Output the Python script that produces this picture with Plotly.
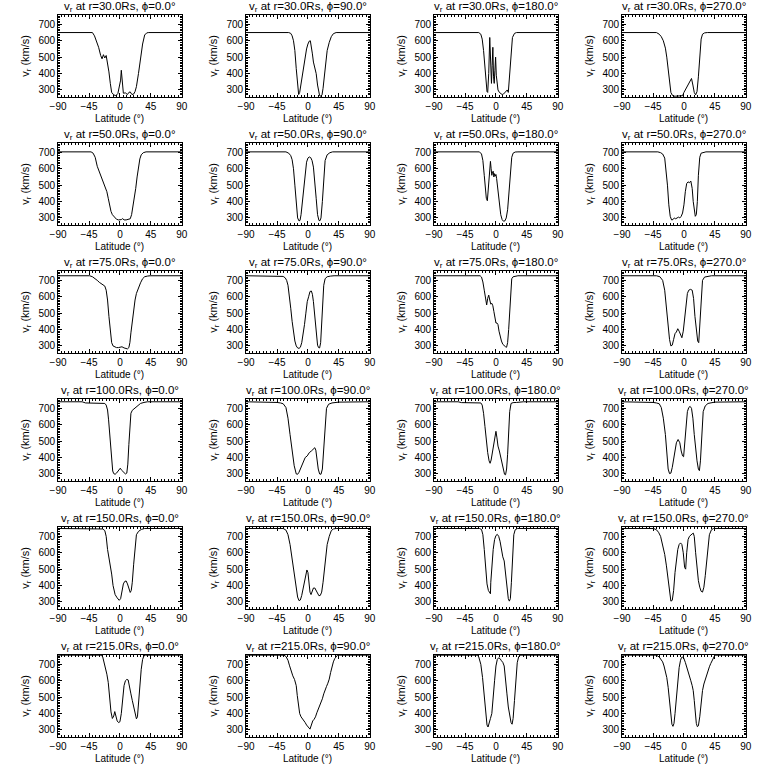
import plotly.graph_objects as go

radii = [30.0, 50.0, 75.0, 100.0, 150.0, 215.0]
phis = [0.0, 90.0, 180.0, 270.0]
x_ticks = [-90, -45, 0, 45, 90]
y_ticks = [300, 400, 500, 600, 700]

# ---------------- r = 30 Rs ----------------
lat_30_0 = [-90, -40, -37, -34, -31, -28, -26, -24, -22, -20, -18, -16, -14, -12, -9, -6, -3, -1, 1, 2, 3.5, 5, 8, 11, 13, 15, 17.5, 20, 22, 24, 27, 30, 33, 36, 39, 42, 90]
v_30_0 = [650, 650, 630, 600, 560, 510, 490, 515, 495, 510, 470, 410, 340, 285, 270, 265, 278, 310, 360, 420, 310, 280, 282, 272, 285, 288, 272, 275, 290, 320, 400, 490, 580, 635, 648, 650, 650]

lat_30_90 = [-90, -28, -25, -23, -21, -19, -17, -15, -13.5, -12, -10, -8, -5, -2, 0, 2, 3.5, 5, 6.5, 8, 10, 12, 14, 15.5, 17, 19, 20.5, 22, 24, 26, 28, 31, 34, 37, 41, 90]
v_30_90 = [650, 650, 645, 630, 600, 540, 430, 320, 272, 285, 340, 400, 480, 550, 580, 598, 600, 570, 520, 470, 440, 400, 330, 285, 265, 262, 270, 310, 400, 490, 540, 590, 625, 643, 650, 650]

lat_30_180 = [-90, -25, -22, -20, -18, -16, -14.5, -13, -12, -10.5, -9, -7.5, -6.5, -5.5, -4.5, -3.5, -2.5, -1.5, -0.5, 0.5, 1.5, 3, 5, 7, 9, 11, 13, 15, 16.5, 18, 20, 22, 24, 27, 30, 90]
v_30_180 = [650, 650, 640, 610, 540, 420, 320, 290, 285, 400, 620, 470, 340, 450, 560, 380, 340, 420, 500, 390, 330, 300, 285, 275, 272, 275, 285, 295, 300, 285, 400, 540, 620, 645, 650, 650]

lat_30_270 = [-90, -40, -36, -33, -30, -27, -25, -23, -21, -19, -17, -15, -12, -8, -4, -2, 0, 3, 6, 9, 11, 13, 15, 17, 19, 21, 23, 25, 27, 30, 34, 90]
v_30_270 = [650, 650, 640, 625, 600, 555, 500, 420, 340, 285, 268, 262, 262, 262, 262, 265, 285, 310, 335, 360, 370, 330, 285, 270, 290, 380, 520, 610, 640, 648, 650, 650]

# ---------------- r = 50 Rs ----------------
lat_50_0 = [-90, -42, -39, -36, -33, -30, -27, -24, -21, -19, -17, -15, -13, -11, -8, -5, -2, 0, 2, 4, 6, 9, 12, 15, 17, 19, 21, 23, 25, 27, 29, 31, 34, 38, 90]
v_50_0 = [703, 703, 695, 670, 615, 580, 545, 510, 480, 460, 420, 370, 340, 320, 305, 292, 288, 288, 290, 296, 288, 288, 290, 295, 320, 370, 420, 480, 550, 610, 660, 685, 698, 703, 703]

lat_50_90 = [-90, -32, -28, -25, -23, -21, -19, -17, -15, -13, -11.5, -10, -8, -6, -4, -2, 0, 2, 4, 6, 8, 10, 12, 14, 16, 17.5, 19, 21, 23, 25, 28, 32, 36, 90]
v_50_90 = [703, 703, 695, 680, 655, 600, 500, 380, 300, 282, 285, 320, 400, 500, 590, 640, 665, 672, 668, 650, 610, 530, 420, 320, 285, 283, 300, 400, 560, 650, 685, 698, 703, 703]

lat_50_180 = [-90, -24, -21, -19, -17, -15.5, -14, -12.5, -11, -9.5, -8, -7, -6, -5, -4, -3, -2, -1, 0, 1, 2, 3.5, 5, 7, 9, 11, 13, 15, 17, 19, 21, 23, 25, 28, 32, 90]
v_50_180 = [703, 703, 690, 650, 560, 470, 420, 405, 480, 600, 645, 600, 560, 580, 585, 550, 570, 555, 565, 540, 500, 430, 370, 320, 290, 280, 282, 300, 350, 450, 580, 670, 695, 702, 703, 703]

lat_50_270 = [-90, -38, -34, -31, -28, -26, -24, -22, -20, -18, -16, -14, -12, -10, -8, -6, -4, -2, 0, 2, 4, 6, 8, 10, 12, 13.5, 15, 16.5, 18, 19.5, 21, 23, 25, 28, 32, 90]
v_50_270 = [703, 703, 698, 690, 665, 600, 500, 380, 310, 288, 290, 300, 295, 300, 305, 300, 310, 330, 380, 460, 510, 520, 515, 525, 480, 400, 330, 310, 320, 400, 560, 670, 695, 700, 703, 703]

# ---------------- r = 75 Rs ----------------
lat_75_0 = [-90, -44, -40, -36, -33, -30, -27, -24, -22, -20, -18, -16, -14, -12, -10, -8, -5, -2, 0, 3, 6, 9, 11, 13, 14.5, 16, 18, 20, 22, 24, 26, 28, 30, 33, 36, 40, 44, 90]
v_75_0 = [728, 728, 722, 712, 700, 688, 680, 675, 665, 640, 580, 480, 380, 320, 300, 295, 290, 290, 292, 295, 288, 283, 282, 290, 320, 380, 460, 530, 580, 620, 645, 665, 685, 710, 722, 726, 728, 728]

lat_75_90 = [-90, -40, -36, -33, -31, -29, -27, -25, -23, -21, -19, -17, -15, -13, -11, -9, -7, -5, -3, -1, 1, 3, 5, 6.5, 8, 9.5, 11, 12.5, 14, 15.5, 17, 18.5, 20, 21.5, 23, 25, 28, 33, 38, 90]
v_75_90 = [728, 728, 724, 715, 700, 670, 610, 530, 450, 380, 330, 300, 288, 285, 292, 320, 370, 430, 500, 570, 600, 632, 635, 615, 570, 500, 420, 350, 305, 290, 288, 320, 420, 560, 670, 710, 722, 726, 728, 728]

lat_75_180 = [-90, -23, -21, -19, -17, -15, -13.5, -12, -10.5, -9, -7.5, -6, -4.5, -3, -1.5, 0, 1.5, 3, 4.5, 6, 8, 10, 12, 14, 15.5, 17, 18.5, 20, 21.5, 23, 25, 28, 32, 90]
v_75_180 = [728, 728, 720, 690, 640, 590, 550, 590, 610, 580, 555, 560, 545, 510, 470, 440, 440, 430, 390, 360, 330, 310, 300, 295, 292, 320, 400, 520, 640, 710, 722, 726, 728, 728]

lat_75_270 = [-90, -40, -35, -31, -28, -25.5, -23, -21, -19, -17, -15, -13, -11, -9, -7, -5, -3, -1, 1, 3, 5, 7, 9.5, 12, 14, 16, 18, 20, 21.5, 23, 25, 27, 30, 35, 40, 90]
v_75_270 = [728, 728, 722, 700, 640, 530, 420, 340, 300, 305, 340, 375, 385, 405, 390, 365, 350, 390, 480, 570, 620, 640, 645, 640, 590, 480, 380, 330, 320, 420, 620, 700, 720, 726, 728, 728]

# ---------------- r = 100 Rs ----------------
lat_100_0 = [-90, -55, -50, -22, -20, -18, -16.5, -15, -13.5, -12, -10.5, -9, -7, -5, -3, -1, 0.5, 2, 4, 6, 8, 10, 11.5, 13, 14.5, 16, 18, 21, 25, 30, 35, 40, 90]
v_100_0 = [740, 740, 733, 730, 720, 690, 630, 540, 440, 360, 318, 302, 298, 305, 318, 330, 335, 325, 315, 308, 300, 305, 360, 480, 600, 670, 688, 700, 715, 730, 736, 740, 740]

lat_100_90 = [-90, -55, -45, -40, -36, -32, -29, -26, -23, -20, -17, -15, -13, -10, -7, -4, -1, 2, 5, 8, 10, 11.5, 13, 15, 17, 19, 21, 23, 25, 27, 30, 35, 45, 90]
v_100_90 = [740, 740, 736, 733, 728, 705, 640, 540, 440, 350, 300, 298, 310, 340, 375, 400, 410, 430, 440, 450, 460, 445, 390, 330, 300, 298, 330, 450, 620, 700, 725, 733, 738, 740]

lat_100_180 = [-90, -55, -50, -22, -20, -18, -16, -14, -12, -10, -8.5, -7, -5, -3, -1.5, 0, 1.5, 3, 5, 7, 9, 11, 12.5, 14, 15.5, 17, 18.5, 20, 22, 25, 30, 40, 90]
v_100_180 = [740, 740, 735, 733, 720, 670, 590, 500, 430, 380, 365, 385, 430, 470, 510, 560, 520, 470, 440, 400, 360, 320, 298, 295, 330, 420, 550, 680, 730, 735, 736, 740, 740]

lat_100_270 = [-90, -55, -45, -40, -36, -33, -30, -27, -25, -23, -21, -19, -17, -15, -13, -11, -8.5, -6, -4, -2, -0.5, 1, 3, 5, 7, 9, 11, 13, 15, 17, 19, 21, 22.5, 24, 26, 28, 31, 35, 45, 90]
v_100_270 = [740, 740, 736, 733, 728, 705, 640, 540, 420, 330, 302, 305, 340, 400, 460, 490, 510, 490, 440, 410, 405, 480, 600, 680, 705, 712, 700, 640, 540, 450, 380, 330, 320, 380, 560, 680, 715, 730, 738, 740]

# ---------------- r = 150 Rs ----------------
lat_150_0 = [-90, -28, -25, -22, -20, -18, -16, -14, -12, -10, -7, -4, -1, 1, 3, 5, 7, 9, 11, 13, 15, 16.5, 18, 20, 22, 24, 27, 31, 36, 90]
v_150_0 = [748, 748, 745, 735, 700, 620, 570, 545, 470, 400, 345, 325, 310, 320, 370, 410, 425, 428, 410, 375, 358, 370, 420, 530, 650, 710, 730, 742, 748, 748]

lat_150_90 = [-90, -36, -32, -29, -26, -23, -20, -17, -15, -13, -11, -9, -7, -5, -3, -1.5, 0, 1.5, 3, 4.5, 6, 8, 10, 12, 14, 16, 18, 20, 22, 24, 26, 28, 31, 34, 37, 41, 90]
v_150_90 = [748, 748, 738, 710, 650, 560, 460, 370, 330, 308, 312, 340, 380, 420, 460, 495, 480, 420, 360, 345, 365, 385, 385, 370, 348, 338, 340, 360, 420, 510, 590, 650, 700, 735, 745, 748, 748]

lat_150_180 = [-90, -24, -21, -19, -17, -15, -13, -11, -9.5, -8, -7.5, -6, -4, -2, 0, 2, 4, 6, 8, 10, 12, 14, 16, 18, 19.5, 21, 22.5, 24, 26, 28, 31, 90]
v_150_180 = [748, 748, 742, 710, 620, 500, 410, 370, 355, 350, 420, 520, 620, 680, 705, 712, 700, 670, 620, 575, 550, 480, 380, 320, 305, 320, 420, 590, 710, 740, 748, 748]

lat_150_270 = [-90, -44, -40, -37, -34, -31, -28, -25.5, -23, -21, -19, -17, -15, -13, -11, -9, -7, -5, -3, -1, 1, 2.5, 4, 6, 8, 10, 12, 13.5, 15, 17, 19, 21, 23, 25, 27, 29, 31, 33, 35, 37, 40, 43, 90]
v_150_270 = [748, 748, 740, 725, 700, 650, 590, 520, 430, 340, 305, 310, 370, 480, 570, 620, 650, 660, 650, 600, 510, 500, 600, 680, 700, 710, 715, 720, 700, 600, 500, 430, 390, 365, 360, 390, 460, 560, 650, 710, 740, 748, 748]

# ---------------- r = 215 Rs ----------------
lat_215_0 = [-90, -27, -25, -22, -19, -17, -15, -13, -11, -9, -7.5, -6, -4, -2, 0, 2, 4, 6, 8, 10, 12, 14, 16, 18, 20, 22, 24, 25.5, 27, 29, 31, 33, 35, 37, 90]
v_215_0 = [756, 756, 745, 700, 640, 590, 500, 410, 370, 385, 412, 380, 355, 345, 350, 400, 500, 570, 600, 608, 605, 570, 520, 480, 440, 400, 368, 380, 470, 580, 670, 730, 752, 756, 756]

lat_215_90 = [-90, -35, -32, -29, -27, -25, -22, -19.5, -17, -15.5, -14, -12, -10, -8, -6, -4, -2, 0, 2, 3, 5, 7, 9, 11, 13, 15, 17, 19, 21, 23, 25, 27, 29, 31, 33, 35, 37, 39, 41, 43, 90]
v_215_90 = [756, 756, 748, 725, 695, 665, 630, 608, 570, 510, 450, 400, 380, 370, 360, 345, 330, 318, 308, 305, 330, 355, 365, 380, 405, 425, 445, 465, 490, 520, 550, 565, 585, 610, 650, 690, 715, 735, 750, 756, 756]

lat_215_180 = [-90, -27, -25, -22, -19.5, -17, -15, -13, -11.5, -10, -8, -6, -4, -2, 0, 2, 4, 6, 8, 10, 12, 14, 16, 18, 20, 22, 23.5, 25, 27, 29, 31, 33, 35, 90]
v_215_180 = [756, 756, 745, 700, 620, 500, 400, 330, 318, 335, 370, 400, 480, 600, 690, 730, 740, 735, 722, 712, 690, 620, 520, 440, 380, 345, 335, 370, 480, 620, 710, 745, 756, 756]

lat_215_270 = [-90, -40, -36, -33, -31, -29, -27, -25, -23, -21, -19, -17.5, -16, -14.5, -13, -11, -9, -7, -5, -3.5, -2, 0, 2, 4, 6, 8, 10, 12, 13.5, 15, 16.5, 18, 19.5, 21, 23, 25, 27, 29, 31, 33, 35, 37, 39, 41, 43, 45, 90]
v_215_270 = [756, 756, 745, 730, 715, 690, 660, 620, 560, 470, 380, 335, 322, 340, 400, 500, 600, 680, 725, 742, 745, 735, 712, 680, 650, 625, 600, 570, 540, 480, 400, 340, 320, 325, 380, 470, 540, 580, 610, 640, 665, 685, 705, 725, 745, 756, 756]

panels = [
    [(lat_30_0, v_30_0), (lat_30_90, v_30_90), (lat_30_180, v_30_180), (lat_30_270, v_30_270)],
    [(lat_50_0, v_50_0), (lat_50_90, v_50_90), (lat_50_180, v_50_180), (lat_50_270, v_50_270)],
    [(lat_75_0, v_75_0), (lat_75_90, v_75_90), (lat_75_180, v_75_180), (lat_75_270, v_75_270)],
    [(lat_100_0, v_100_0), (lat_100_90, v_100_90), (lat_100_180, v_100_180), (lat_100_270, v_100_270)],
    [(lat_150_0, v_150_0), (lat_150_90, v_150_90), (lat_150_180, v_150_180), (lat_150_270, v_150_270)],
    [(lat_215_0, v_215_0), (lat_215_90, v_215_90), (lat_215_180, v_215_180), (lat_215_270, v_215_270)],
]

W, H = 768, 768
FONT = "Liberation Sans"
fig = go.Figure()
annotations = []
layout_axes = {}

for i, r in enumerate(radii):
    for j, p in enumerate(phis):
        k = i * 4 + j + 1
        xname = "x" if k == 1 else f"x{k}"
        yname = "y" if k == 1 else f"y{k}"
        xkey = "xaxis" if k == 1 else f"xaxis{k}"
        ykey = "yaxis" if k == 1 else f"yaxis{k}"
        left = 51 + 191.5 * j
        right = left + 126
        top = 15 + 128 * i
        bottom = top + 82
        lat, v = panels[i][j]
        fig.add_trace(go.Scatter(x=lat, y=v, mode="lines",
                                 line=dict(color="black", width=1),
                                 xaxis=xname, yaxis=yname,
                                 showlegend=False, hoverinfo="skip"))
        common = dict(showline=True, linecolor="black", linewidth=1,
                      mirror="allticks", ticks="inside", ticklen=4,
                      tickwidth=1, tickcolor="black", showgrid=False,
                      zeroline=False,
                      tickfont=dict(family=FONT, size=10, color="black"))
        layout_axes[xkey] = dict(common, domain=[left / W, right / W],
                                 anchor=yname, range=[-90, 90],
                                 tickmode="array", tickvals=x_ticks,
                                 ticktext=[("\u2212" + str(-t)) if t < 0 else str(t) for t in x_ticks],
                                 ticklabelstandoff=0,
                                 minor=dict(ticks="inside", ticklen=2, tickcolor="black",
                                            tick0=-90, dtick=5, showgrid=False))
        layout_axes[ykey] = dict(common, domain=[1 - bottom / H, 1 - top / H],
                                 anchor=xname, range=[257, 757],
                                 tickmode="array", tickvals=y_ticks,
                                 minor=dict(ticks="inside", ticklen=2, tickcolor="black",
                                            tick0=0, dtick=10, showgrid=False))
        cx = (left + right) / 2 / W
        annotations.append(dict(
            text=f"v<sub>r</sub> at r={r:.1f}Rs, \u03d5={p:.1f}\u00b0",
            x=cx, y=1 - (top - 8) / H, xref="paper", yref="paper",
            xanchor="center", yanchor="middle", showarrow=False,
            font=dict(family=FONT, size=11.5, color="black")))
        annotations.append(dict(
            text="v<sub>r</sub> (km/s)", textangle=-90,
            x=(left - 33) / W, y=1 - (top + 41) / H, xref="paper", yref="paper",
            xanchor="center", yanchor="middle", showarrow=False,
            font=dict(family=FONT, size=11, color="black")))
        annotations.append(dict(
            text="Latitude (\u00b0)",
            x=cx, y=1 - (bottom + 21) / H, xref="paper", yref="paper",
            xanchor="center", yanchor="middle", showarrow=False,
            font=dict(family=FONT, size=10, color="black")))

fig.update_layout(width=W, height=H, margin=dict(l=0, r=0, t=0, b=0),
                  paper_bgcolor="white", plot_bgcolor="white",
                  annotations=annotations, **layout_axes)
fig.write_html("out.html", config={"displayModeBar": False, "staticPlot": True},
               post_script="document.body.style.margin='0px';document.body.style.padding='0px';")
